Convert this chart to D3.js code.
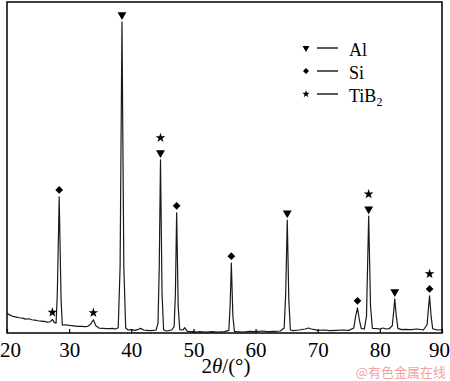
<!DOCTYPE html>
<html>
<head>
<meta charset="utf-8">
<script src="https://cdn.jsdelivr.net/npm/d3@7"></script>
<style>
  body { margin: 0; background: #fff; }
  svg { display: block; }
</style>
</head>
<body>
<div id="chart"></div>
<script>
// 2theta positions and intensities of the XRD pattern
const twoTheta = [20.0, 20.5, 21.0, 21.5, 22.0, 22.5, 23.0, 23.5, 24.0, 24.5, 25.0, 25.5, 26.0, 26.5, 27.0, 27.3, 27.6, 27.9,
  28.1, 28.4, 28.7, 28.9, 29.5, 30.0, 30.5, 31.0, 31.5, 32.0, 32.5, 33.0, 33.5, 33.9, 34.3, 34.8, 35.5, 36.0, 36.5, 37.0, 37.5, 37.9,
  38.2, 38.5, 38.8, 39.1, 39.5, 40.0, 40.5, 41.0, 41.5, 42.0, 42.5, 43.0, 43.5, 44.0, 44.3, 44.5, 44.7, 44.95, 45.2, 45.6, 46.0, 46.5,
  46.9, 47.1, 47.3, 47.55, 47.8, 48.3, 48.6, 49.0, 49.5, 50.0, 50.5, 51.0, 52.0, 53.0, 54.0, 55.0, 55.7, 55.9, 56.1, 56.35, 56.6,
  57.0, 58.0, 59.0, 60.0, 61.0, 62.0, 63.0, 64.0, 64.6, 64.85, 65.1, 65.35, 65.6, 66.0, 67.0, 68.0, 68.5, 69.0, 69.5, 70.0, 71.0,
  72.0, 73.0, 74.0, 75.0, 75.8, 76.1, 76.4, 76.7, 77.0, 77.5, 77.85, 78.2, 78.5, 78.8, 79.5, 80.0, 80.5, 81.0, 81.5, 82.0, 82.2,
  82.4, 82.65, 82.9, 83.5, 84.0, 85.0, 86.0, 87.0, 87.6, 87.8, 88.0, 88.25, 88.5, 89.0, 89.5, 90.0];
const intensity = [6.0, 5.4, 5.0, 4.8, 4.6, 4.5, 4.2, 4.3, 4.0, 3.9, 3.7, 3.6, 3.5, 3.3, 3.4, 4.1, 3.2, 3.0,
  12, 41.1, 10, 2.4, 2.5, 2.3, 2.2, 2.1, 2.0, 2.0, 1.9, 2.0, 2.8, 4.0, 2.2, 1.5, 1.4, 1.3, 1.3, 1.4, 1.2, 1.6,
  20, 94, 20, 1.5, 0.9, 1.0, 0.8, 1.0, 1.4, 0.9, 0.8, 0.7, 0.8, 0.9, 3, 20, 52.3, 12, 1.0, 0.6, 0.7, 0.9,
  2.0, 12, 36.3, 8, 1.0, 0.9, 1.6, 0.5, 0.4, 0.4, 0.3, 0.4, 0.3, 0.4, 0.3, 0.4, 0.8, 8, 21.1, 5, 0.5,
  0.4, 0.3, 0.5, 0.4, 0.6, 0.4, 0.5, 0.6, 1.5, 12, 34.1, 10, 0.9, 0.7, 0.9, 1.2, 1.5, 1.2, 1.0, 0.8, 0.9,
  0.7, 0.8, 0.9, 0.8, 1.5, 5, 7.6, 4, 1.4, 1.2, 5, 35.3, 8, 1.4, 1.3, 1.2, 1.5, 1.2, 1.3, 2.2, 6,
  10.3, 5, 1.4, 1.0, 1.1, 1.0, 1.2, 0.9, 2.5, 7, 11.2, 5, 1.3, 1.0, 0.9, 1.0];

// phase identification markers: peak position, peak height, phases (bottom to top)
const peakPos = [27.3, 28.4, 33.9, 38.5, 44.7, 47.3, 56.1, 65.1, 76.4, 78.2, 82.4, 88.0];
const peakTop = [4.1, 41.1, 4.0, 94, 52.3, 36.3, 21.1, 34.1, 7.6, 35.3, 10.3, 11.2];
const peakPhases = [["TiB2"], ["Si"], ["TiB2"], ["Al"], ["Al", "TiB2"], ["Si"], ["Si"], ["Al"], ["Si"], ["Al", "TiB2"], ["Al"], ["Si", "TiB2"]];

const legendPhases = ["Al", "Si", "TiB2"];
const xTicks = [20, 30, 40, 50, 60, 70, 80, 90];

const W = 450, H = 381;
const margin = { top: 2, right: 8, bottom: 48, left: 7 };
const serif = 'Liberation Serif, Times New Roman, serif';

const svg = d3.select('#chart').append('svg')
  .attr('width', W)
  .attr('height', H);

const x = d3.scaleLinear().domain([20, 90]).range([margin.left, W - margin.right]);
const y = d3.scaleLinear().domain([0, 100]).range([H - margin.bottom, margin.top]);

// pattern line
const pts = twoTheta.map((t, i) => [t, intensity[i]]);
svg.append('path')
  .datum(pts)
  .attr('fill', 'none')
  .attr('stroke', '#1a1a1a')
  .attr('stroke-width', 1.2)
  .attr('stroke-linejoin', 'round')
  .attr('d', d3.line().x(d => x(d[0])).y(d => y(d[1])));

// frame
svg.append('rect')
  .attr('x', x(20)).attr('y', y(100))
  .attr('width', x(90) - x(20)).attr('height', y(0) - y(100))
  .attr('fill', 'none').attr('stroke', '#000').attr('stroke-width', 1.5);

// bottom axis, inward ticks
const xAxis = d3.axisBottom(x).tickValues(xTicks).tickSizeInner(-4).tickSizeOuter(0).tickPadding(9);
const gx = svg.append('g')
  .attr('transform', `translate(0,${y(0)})`)
  .call(xAxis)
  .attr('font-family', serif)
  .attr('font-size', 21);
gx.select('.domain').remove();
gx.selectAll('line').attr('stroke', '#000').attr('stroke-width', 1.2);
gx.selectAll('text').attr('fill', '#000');
// keep the end labels inside the window
gx.selectAll('.tick text').filter(d => d === 20).attr('dx', 3);
gx.selectAll('.tick text').filter(d => d === 90).attr('dx', -3);

// axis title
const title = svg.append('text')
  .attr('x', 226).attr('y', 373)
  .attr('text-anchor', 'middle')
  .attr('font-family', serif)
  .attr('font-size', 21);
title.append('tspan').text('2');
title.append('tspan').attr('font-style', 'italic').text('θ');
title.append('tspan').text('/(°)');

// markers
const symbolFor = {
  Al: { type: d3.symbolTriangle, size: 34, rot: 180 },
  Si: { type: d3.symbolSquare, size: 30, rot: 45 },
  TiB2: { type: d3.symbolStar, size: 30, rot: 0 }
};
function drawSymbol(phase, cx, cy, scale) {
  const s = symbolFor[phase];
  svg.append('path')
    .attr('d', d3.symbol().type(s.type).size(s.size * scale)())
    .attr('transform', `translate(${cx},${cy}) rotate(${s.rot})`)
    .attr('fill', '#000');
}
peakPos.forEach((p, i) => {
  peakPhases[i].forEach((ph, k) => {
    const off = k === 0 ? 7 : 22;
    drawSymbol(ph, x(p), y(peakTop[i]) - off, 1);
  });
});

// legend
legendPhases.forEach((ph, i) => {
  const ly = 48 + i * 23;
  drawSymbol(ph, 306, ly, 0.6);
  svg.append('line')
    .attr('x1', 317).attr('x2', 338)
    .attr('y1', ly).attr('y2', ly)
    .attr('stroke', '#000').attr('stroke-width', 1.3);
  const t = svg.append('text')
    .attr('x', 349).attr('y', ly + 8)
    .attr('font-family', serif)
    .attr('font-size', 18);
  if (ph === 'TiB2') {
    t.append('tspan').text('TiB');
    t.append('tspan').attr('dy', 4).attr('font-size', 12).text('2');
  } else {
    t.text(ph);
  }
});

// watermark
svg.append('text')
  .attr('x', 446).attr('y', 377)
  .attr('text-anchor', 'end')
  .attr('fill', '#f3a3a3')
  .attr('font-family', 'Noto Sans CJK SC, sans-serif')
  .attr('font-size', 13)
  .text('@有色金属在线');
</script>
</body>
</html>
